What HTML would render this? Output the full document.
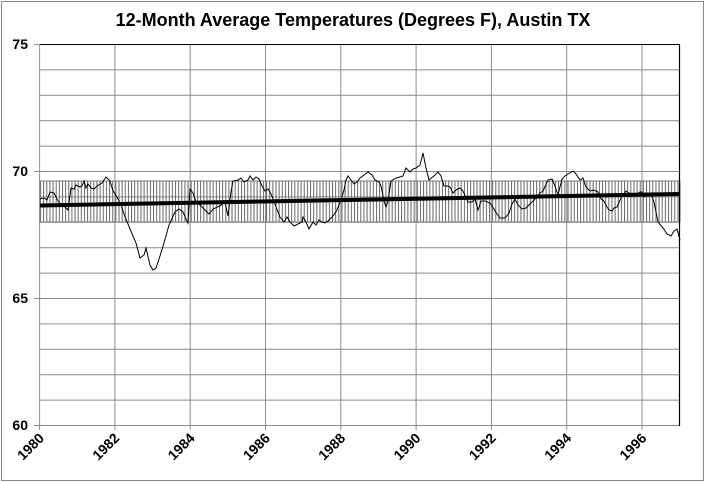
<!DOCTYPE html>
<html><head><meta charset="utf-8"><style>
html,body{margin:0;padding:0;background:#fff;}
svg{display:block;}
text{font-family:"Liberation Sans",Calibri,sans-serif;}
</style></head><body>
<svg width="705" height="483" viewBox="0 0 705 483" xmlns="http://www.w3.org/2000/svg">
<defs>
<pattern id="h" x="40" y="0" width="3.14" height="10" patternUnits="userSpaceOnUse">
<line x1="0.5" y1="0" x2="0.5" y2="10" stroke="#666" stroke-width="1"/>
</pattern>
</defs>
<rect x="1.5" y="1.5" width="702" height="479" fill="#fff" stroke="#888" stroke-width="1"/>
<text x="353" y="26" text-anchor="middle" font-size="18" font-weight="bold">12-Month Average Temperatures (Degrees F), Austin TX</text>
<g stroke="#8c8c8c" stroke-width="1">
<line x1="40" y1="69.9" x2="680" y2="69.9"/><line x1="40" y1="95.3" x2="680" y2="95.3"/><line x1="40" y1="120.7" x2="680" y2="120.7"/><line x1="40" y1="146.1" x2="680" y2="146.1"/><line x1="40" y1="171.5" x2="680" y2="171.5"/><line x1="40" y1="196.9" x2="680" y2="196.9"/><line x1="40" y1="222.3" x2="680" y2="222.3"/><line x1="40" y1="247.7" x2="680" y2="247.7"/><line x1="40" y1="273.1" x2="680" y2="273.1"/><line x1="40" y1="298.5" x2="680" y2="298.5"/><line x1="40" y1="323.9" x2="680" y2="323.9"/><line x1="40" y1="349.3" x2="680" y2="349.3"/><line x1="40" y1="374.7" x2="680" y2="374.7"/><line x1="40" y1="400.1" x2="680" y2="400.1"/>
<line x1="114.9" y1="44" x2="114.9" y2="430"/><line x1="190.2" y1="44" x2="190.2" y2="430"/><line x1="265.5" y1="44" x2="265.5" y2="430"/><line x1="340.8" y1="44" x2="340.8" y2="430"/><line x1="416.1" y1="44" x2="416.1" y2="430"/><line x1="491.4" y1="44" x2="491.4" y2="430"/><line x1="566.7" y1="44" x2="566.7" y2="430"/><line x1="642" y1="44" x2="642" y2="430"/>
<line x1="39.6" y1="44" x2="39.6" y2="430"/>
<line x1="34" y1="44.5" x2="40" y2="44.5"/><line x1="34" y1="171.5" x2="40" y2="171.5"/><line x1="34" y1="298.5" x2="40" y2="298.5"/><line x1="34" y1="425.5" x2="680" y2="425.5"/>
</g>
<rect x="40" y="181" width="640" height="41" fill="url(#h)" stroke="#777" stroke-width="1"/>
<line x1="40" y1="44.5" x2="680" y2="44.5" stroke="#000" stroke-width="1"/>
<line x1="679.5" y1="44" x2="679.5" y2="426" stroke="#000" stroke-width="1.2"/>
<polyline fill="none" stroke="#000" stroke-width="1" points="40,199 44,198 47,200 50,192 54,193 57,199 60,204 64,206 68,210 71,188 74,189 76,185 80,187 82,186 84,181 86,188 88,184 91,188 94,189 97,186 102,183 106,177 110,181 113,191 117,197 121,205 124,214 130,229 136,243 140,258 144,255 146,248 150,265 153,270 156,268 160,256 164,243 169,225 175,212 179,209 183,212 186,219 188,223 190,189 193,193 196,202 200,205 205,210 209,214 213,209 220,206 225,202 228,216 231,192 233,181 238,180 241,178 244,182 248,180 250,176 253,180 256,177 259,179 262,186 265,191 268,189 271,194 273,199 276,207 280,217 284,222 287,217 290,222 294,226 298,224 302,222 303,217 306,222 309,229 313,222 316,225 319,220 322,222 325,223 328,221 332,217 336,212 339,205 342,197 344,190 346,180 348,176 351,180 354,184 357,182 360,178 364,175 368,172 372,175 375,180 379,182 381,186 384,201 386,207 388,201 391,181 396,178 400,177 403,176 406,168 410,172 413,169 416,168 420,165 423,153 426,168 429,180 434,176 438,172 441,176 444,186 447,186 450,187 453,193 456,190 460,188 463,191 468,202 472,202 475,199 478,210 481,201 485,201 490,203 494,209 497,214 500,218 505,218 509,213 512,204 515,199 518,205 522,209 526,208 531,203 535,199 540,193 543,191 548,180 552,179 555,186 558,195 562,179 565,176 568,174 573,171 576,174 580,180 583,178 586,187 590,191 594,190 598,192 601,199 603,200 605,203 607,207 609,210 612,211 614,208 617,207 621,198 626,191 629,193 633,194 637,194 640,192 642,192 644,197 647,193 650,193 651,194 654,202 658,222 663,228 667,234 671,236 674,231 677,229 680,240"/>
<line x1="40" y1="205.5" x2="680" y2="194" stroke="#000" stroke-width="4"/>
<g font-size="14" font-weight="bold" text-anchor="end">
<text x="28" y="49">75</text><text x="28" y="176">70</text><text x="28" y="303">65</text><text x="28" y="430">60</text>
</g>
<g font-size="14" font-weight="bold" text-anchor="end">
<text transform="translate(45,439) rotate(-45)">1980</text>
<text transform="translate(120.3,439) rotate(-45)">1982</text>
<text transform="translate(195.6,439) rotate(-45)">1984</text>
<text transform="translate(270.9,439) rotate(-45)">1986</text>
<text transform="translate(346.2,439) rotate(-45)">1988</text>
<text transform="translate(421.5,439) rotate(-45)">1990</text>
<text transform="translate(496.8,439) rotate(-45)">1992</text>
<text transform="translate(572.1,439) rotate(-45)">1994</text>
<text transform="translate(647.4,439) rotate(-45)">1996</text>
</g>
</svg>
</body></html>
